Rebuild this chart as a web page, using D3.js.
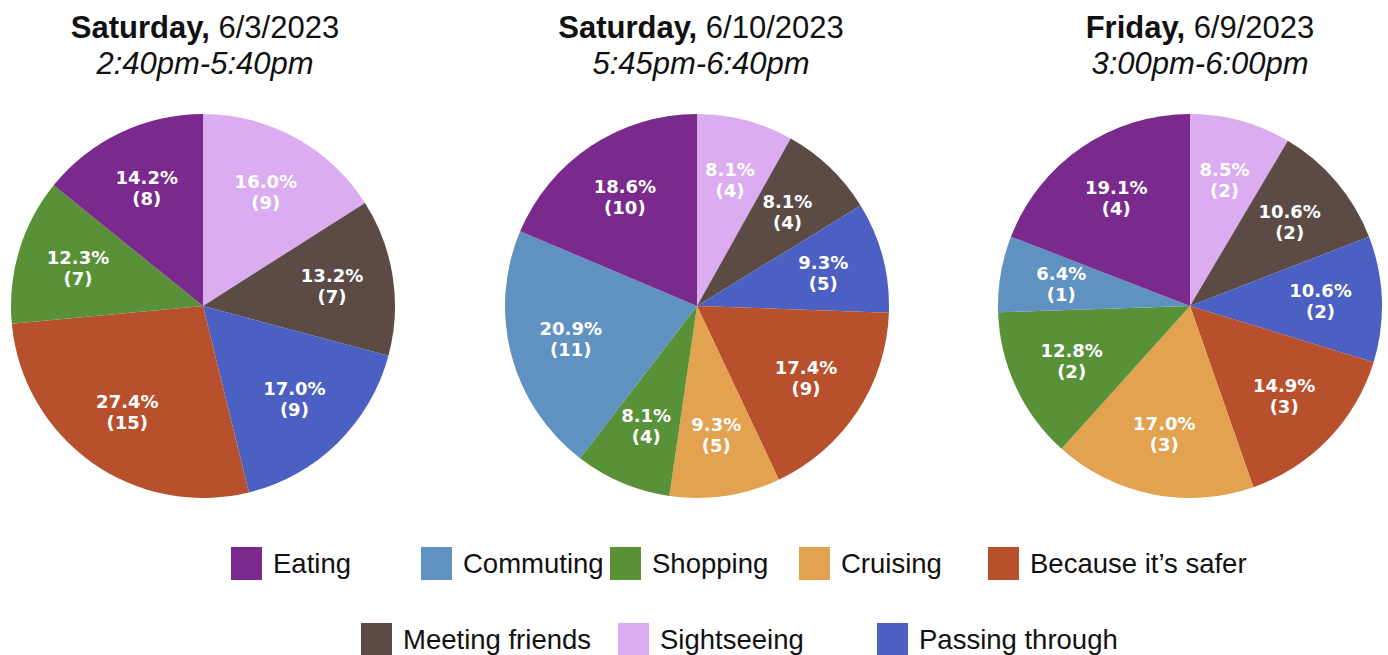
<!DOCTYPE html>
<html>
<head>
<meta charset="utf-8">
<script src="https://cdn.jsdelivr.net/npm/d3@7"></script>
<style>
  body { margin: 0; background: #fff; }
  svg { display: block; }
</style>
</head>
<body>
<svg id="chart" width="1388" height="655"></svg>
<script>
// categories in drawing order (clockwise from 12 o'clock)
let categories = ['Sightseeing', 'Meeting friends', 'Passing through', "Because it’s safer", 'Cruising', 'Shopping', 'Commuting', 'Eating']
let colors = ['#dbadf0', '#5c4b45', '#4b60c2', '#b8502d', '#e2a24f', '#589137', '#5f92c1', '#7a2a8c']

let days = ['Saturday,', 'Saturday,', 'Friday,']
let dates = ['6/3/2023', '6/10/2023', '6/9/2023']
let times = ['2:40pm-5:40pm', '5:45pm-6:40pm', '3:00pm-6:00pm']

// percent share and count per category, same order as categories
let pct1 = [16.0, 13.2, 17.0, 27.4, 0, 12.3, 0, 14.2]
let cnt1 = [9, 7, 9, 15, 0, 7, 0, 8]
let pct2 = [8.1, 8.1, 9.3, 17.4, 9.3, 8.1, 20.9, 18.6]
let cnt2 = [4, 4, 5, 9, 5, 4, 11, 10]
let pct3 = [8.5, 10.6, 10.6, 14.9, 17.0, 12.8, 6.4, 19.1]
let cnt3 = [2, 2, 2, 3, 3, 2, 1, 4]

let legendRow1 = ['Eating', 'Commuting', 'Shopping', 'Cruising', "Because it’s safer"]
let legendRow2 = ['Meeting friends', 'Sightseeing', 'Passing through']

let svg = d3.select('#chart')
let radius = 192
let centersX = [203, 697, 1190]
let centerY = 306
let titleX = [205, 701, 1200]

let color = d3.scaleOrdinal().domain(categories).range(colors)

let pie = d3.pie()
  .sort(null)
  .value(function (d) { return d.pct })

let arc = d3.arc().innerRadius(0).outerRadius(radius)
let labelArc = d3.arc().innerRadius(radius * 0.68).outerRadius(radius * 0.68)

let series = [[pct1, cnt1], [pct2, cnt2], [pct3, cnt3]]

series.forEach(function (s, i) {
  let data = categories.map(function (c, j) {
    return { cat: c, pct: s[0][j], cnt: s[1][j] }
  })

  // title
  let title = svg.append('text')
    .attr('x', titleX[i])
    .attr('y', 38)
    .attr('text-anchor', 'middle')
    .style('font-family', 'Liberation Sans, Arial, sans-serif')
    .style('font-size', '31px')
    .attr('fill', '#111')
  title.append('tspan').style('font-weight', 'bold').text(days[i])
  title.append('tspan').text(' ' + dates[i])

  svg.append('text')
    .attr('x', titleX[i])
    .attr('y', 74)
    .attr('text-anchor', 'middle')
    .style('font-family', 'Liberation Sans, Arial, sans-serif')
    .style('font-size', '31px')
    .style('font-style', 'italic')
    .attr('fill', '#111')
    .text(times[i])

  let g = svg.append('g')
    .attr('transform', 'translate(' + centersX[i] + ',' + centerY + ')')

  let slices = g.selectAll('.arc')
    .data(pie(data).filter(function (d) { return d.data.pct > 0 }))
    .enter().append('g')
    .attr('class', 'arc')

  slices.append('path')
    .attr('d', arc)
    .attr('fill', function (d) { return color(d.data.cat) })

  let lbl = slices.append('text')
    .attr('transform', function (d) { return 'translate(' + labelArc.centroid(d) + ')' })
    .attr('text-anchor', 'middle')
    .style('font-family', 'DejaVu Sans, sans-serif')
    .style('font-weight', 'bold')
    .style('font-size', '18px')
    .attr('fill', '#fff')

  lbl.append('tspan')
    .attr('x', 0)
    .attr('y', -4)
    .text(function (d) { return d.data.pct.toFixed(1) + '%' })
  lbl.append('tspan')
    .attr('x', 0)
    .attr('y', 17)
    .text(function (d) { return '(' + d.data.cnt + ')' })
})

// legend
let legendX1 = [231, 421, 610, 799, 988]
let legendX2 = [361, 618, 877]

function drawLegend (items, xs, top) {
  let item = svg.selectAll(null)
    .data(items)
    .enter().append('g')
    .attr('transform', function (d, i) { return 'translate(' + xs[i] + ',' + top + ')' })

  item.append('rect')
    .attr('width', 31)
    .attr('height', 33)
    .attr('fill', function (d) { return color(d) })

  item.append('text')
    .attr('x', 42)
    .attr('y', 16.5)
    .attr('dy', '0.35em')
    .style('font-family', 'Liberation Sans, Arial, sans-serif')
    .style('font-size', '27.5px')
    .attr('fill', '#111')
    .text(function (d) { return d })
}

drawLegend(legendRow1, legendX1, 547)
drawLegend(legendRow2, legendX2, 623)
</script>
</body>
</html>
